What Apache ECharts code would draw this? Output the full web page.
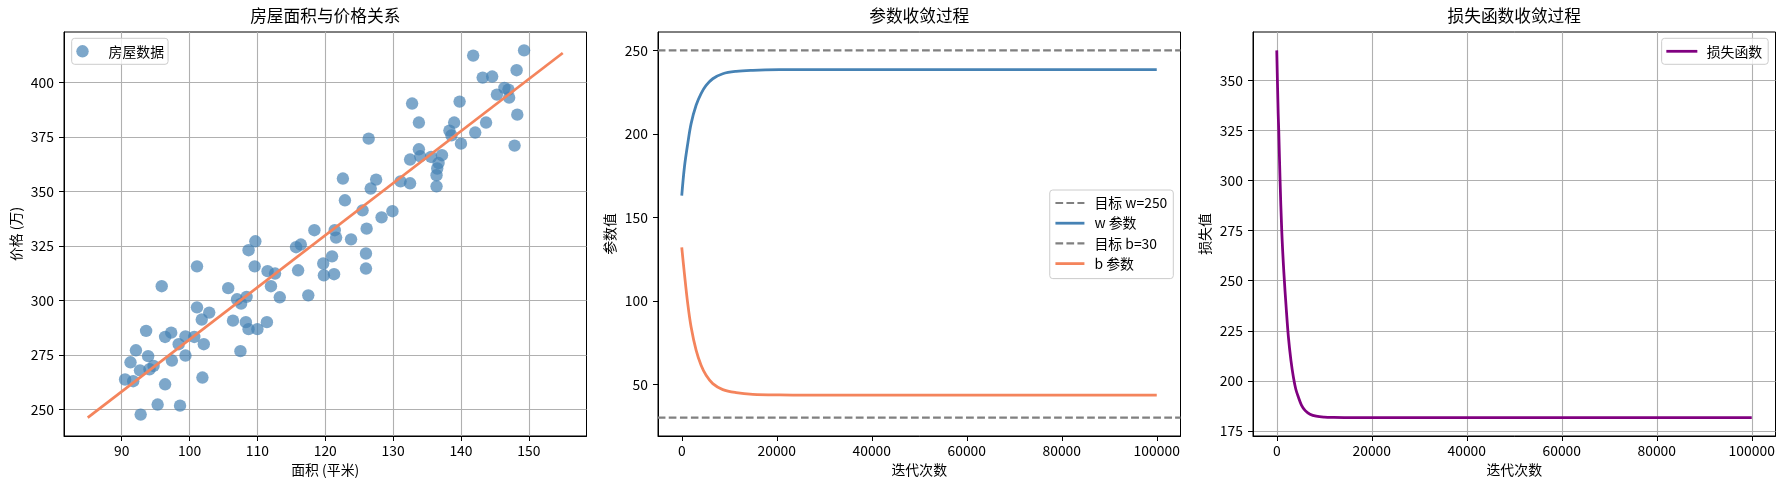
<!DOCTYPE html>
<html>
<head>
<meta charset="utf-8">
<title>房屋价格线性回归</title>
<script src="https://cdn.jsdelivr.net/npm/echarts@6/dist/echarts.min.js"></script>
<style>
html, body { margin: 0; padding: 0; background: #fff; }
#main { width: 1785px; height: 490px; }
</style>
</head>
<body>
<div id="main"></div>
<script>
// 房屋数据 [面积(平米), 价格(万)]
var housePoints = [
    [149.3,414.8],[141.8,412.4],[143.2,402.3],[144.6,402.8],[148.2,405.7],[146.4,397.6],[147.0,396.8],[145.3,394.5],[147.1,393.1],[148.3,385.3],
    [147.9,371.1],[143.7,381.7],[142.1,377.1],[139.8,391.3],[139.0,381.7],[138.3,378.0],[138.6,375.8],[140.0,372.0],[132.8,390.4],[133.8,381.7],
    [126.4,374.3],[133.8,369.4],[132.5,364.7],[134.0,366.2],[135.6,365.9],[137.2,366.7],[136.7,363.1],[136.5,360.6],[136.4,357.5],[136.4,352.4],
    [131.1,354.7],[132.5,353.8],[122.6,356.0],[127.5,355.5],[126.7,351.4],[122.9,346.0],[125.5,341.4],[129.9,341.0],[128.3,338.2],[126.1,333.0],
    [121.4,332.3],[121.6,328.9],[123.8,328.1],[118.4,332.3],[116.4,325.7],[115.7,324.5],[116.0,313.9],[119.7,317.0],[121.0,320.3],[119.8,311.6],
    [121.3,312.1],[126.0,321.6],[126.0,314.7],[117.5,302.4],[109.7,327.2],[108.7,323.1],[109.6,315.7],[111.5,313.5],[112.6,312.4],[112.0,306.6],
    [113.3,301.5],[105.7,305.7],[107.0,300.6],[108.4,301.7],[107.6,298.6],[106.4,290.8],[108.3,290.1],[108.7,286.9],[110.0,286.9],[111.4,290.1],
    [107.5,276.8],[101.1,315.7],[95.9,306.6],[101.1,296.9],[102.9,294.5],[101.8,291.3],[99.4,283.6],[100.7,283.3],[98.4,280.0],[102.1,280.0],
    [99.4,274.8],[97.3,285.3],[96.4,283.3],[97.4,272.5],[93.6,286.1],[92.1,277.2],[93.9,274.5],[91.3,271.7],[92.7,268.0],[94.1,268.5],
    [94.7,270.0],[90.5,263.8],[91.7,263.0],[96.4,261.6],[101.9,264.7],[95.3,252.3],[98.6,251.8],[92.8,247.7]
];
// 拟合直线两端
var fitX = [85, 155];
var fitY = [246.3, 413.6];

// 参数收敛过程
var paramIter = [0, 560, 1260, 1970, 3020, 4070, 5130, 6530, 8640, 11450, 14960, 20580, 26900, 40000, 60000, 80000, 100000];
var wValues = [163, 180, 194.1, 206.1, 217.1, 224.1, 229, 233, 236, 237.4, 238, 238.4, 238.5, 238.5, 238.5, 238.5, 238.5];
var bValues = [132, 116.3, 98.3, 84.3, 70.4, 61.4, 55.4, 50.4, 46.8, 45, 44, 43.6, 43.5, 43.5, 43.5, 43.5, 43.5];
var targetW = 250;
var targetB = 30;

// 损失函数收敛过程
var lossIter = [0, 300, 420, 700, 1050, 1500, 2000, 2450, 3000, 3500, 4000, 4545, 5200, 6000, 7000, 8300, 10000, 12000, 16000, 30000, 60000, 100000];
var lossValues = [364.9, 333.5, 325, 300, 275, 254, 236, 222, 210, 202, 196, 192, 188, 185.2, 183.4, 182.4, 181.95, 181.8, 181.7, 181.7, 181.7, 181.7];

// 刻度
var areaTicks = [90, 100, 110, 120, 130, 140, 150];
var priceTicks = [250, 275, 300, 325, 350, 375, 400];
var iterTicks = [0, 20000, 40000, 60000, 80000, 100000];
var paramTicks = [50, 100, 150, 200, 250];
var lossTicks = [175, 200, 225, 250, 275, 300, 325, 350];

var FONT = '"Noto Sans CJK SC", "Noto Sans", sans-serif';
var STEEL = '#4682B4';
var CORAL = '#F4845C';
var GRAY = '#808080';
var PURPLE = '#800080';
var SOLID_W = 2.78;
var DASH_W = 2.08;
var DASH = [7.7, 3.3];

// matplotlib 式 5% 边距
function padRange(vals) {
    var lo = Math.min.apply(null, vals), hi = Math.max.apply(null, vals);
    var p = (hi - lo) * 0.05;
    return [lo - p, hi + p];
}
function pairs(xs, ys) {
    return xs.map(function (x, i) { return [x, ys[i]]; });
}

var areaRange = padRange(housePoints.map(function (p) { return p[0]; }).concat(fitX));
var priceRange = padRange(housePoints.map(function (p) { return p[1]; }).concat(fitY));
var iterRange = padRange(paramIter);
var paramRange = padRange(wValues.concat(bValues, [targetW, targetB]));
var lossRange = padRange(lossValues);

var grids = [
    { left: 64, top: 32, width: 522.5, height: 404 },
    { left: 658, top: 32, width: 522.5, height: 404 },
    { left: 1253, top: 32, width: 522.5, height: 404 }
];
grids.forEach(function (g) {
    g.show = true;
    g.borderColor = '#000';
    g.borderWidth = 1;
    g.backgroundColor = 'transparent';
    g.containLabel = false;
});

function axis(gridIndex, range, ticks, name, showGrid, isY) {
    return {
        type: 'value',
        gridIndex: gridIndex,
        min: range[0],
        max: range[1],
        name: name,
        nameLocation: 'middle',
        nameGap: isY ? 41 : 27,
        nameTextStyle: { fontFamily: FONT, fontSize: 13.9, color: '#000' },
        axisLine: { show: true, onZero: false, lineStyle: { color: '#000', width: 1 } },
        axisTick: { show: true, length: 5, customValues: ticks, lineStyle: { color: '#000', width: 1 } },
        axisLabel: {
            customValues: ticks,
            margin: isY ? 10 : 8,
            fontFamily: FONT, fontSize: 13.9, color: '#000',
            formatter: function (v) { return String(v); }
        },
        splitLine: { show: showGrid, customValues: ticks, lineStyle: { color: '#b0b0b0', width: 1.1 } }
    };
}

var titleStyle = { fontFamily: FONT, fontSize: 16.7, fontWeight: 'normal', color: '#000' };
function title(text, g) {
    return { text: text, left: g.left + g.width / 2, textAlign: 'center', top: 7, padding: 0, textStyle: titleStyle };
}

var legendBase = {
    backgroundColor: 'rgba(255,255,255,0.8)',
    borderColor: '#cccccc',
    borderWidth: 1,
    borderRadius: 3,
    textStyle: { fontFamily: FONT, fontSize: 13.9, color: '#000', lineHeight: 14 }
};
function legend(extra) {
    var o = {};
    Object.keys(legendBase).forEach(function (k) { o[k] = legendBase[k]; });
    Object.keys(extra).forEach(function (k) { o[k] = extra[k]; });
    return o;
}
// 图例中的线宽与曲线保持一致
function lineItem(name, width) {
    return { name: name, lineStyle: { width: width } };
}

function lineSeries(name, xi, data, color, width, dash) {
    return {
        name: name, type: 'line',
        xAxisIndex: xi, yAxisIndex: xi,
        data: data,
        symbol: 'none', showSymbol: false,
        smooth: 0.35,
        lineStyle: { color: color, width: width, type: dash || 'solid' },
        itemStyle: { color: color },
        emphasis: { disabled: true },
        animation: false
    };
}

var chart = echarts.init(document.getElementById('main'), null, { renderer: 'canvas' });

chart.setOption({
    animation: false,
    textStyle: { fontFamily: FONT },
    title: [
        title('房屋面积与价格关系', grids[0]),
        title('参数收敛过程', grids[1]),
        title('损失函数收敛过程', grids[2])
    ],
    grid: grids,
    xAxis: [
        axis(0, areaRange, areaTicks, '面积 (平米)', true, false),
        axis(1, iterRange, iterTicks, '迭代次数', false, false),
        axis(2, iterRange, iterTicks, '迭代次数', true, false)
    ],
    yAxis: [
        axis(0, priceRange, priceTicks, '价格 (万)', true, true),
        axis(1, paramRange, paramTicks, '参数值', false, true),
        axis(2, lossRange, lossTicks, '损失值', true, true)
    ],
    legend: [
        legend({
            data: ['房屋数据'], left: 71.7, top: 38.3, orient: 'vertical',
            itemWidth: 28, itemHeight: 12.4, padding: [6, 4, 6, 4.6],
            textStyle: { fontFamily: FONT, fontSize: 13.9, color: '#000', lineHeight: 14, padding: [0, 0, 0, 7] }
        }),
        legend({
            data: [
                lineItem('目标 w=250', DASH_W),
                lineItem('w 参数', SOLID_W),
                lineItem('目标 b=30', DASH_W),
                lineItem('b 参数', SOLID_W)
            ],
            right: 611.7, top: 190, orient: 'vertical',
            itemWidth: 29, itemHeight: 14, itemGap: 6.2, padding: [6, 6, 8, 4.3],
            itemStyle: { opacity: 0 },
            textStyle: { fontFamily: FONT, fontSize: 13.9, color: '#000', lineHeight: 14, padding: [0, 0, 0, 5] }
        }),
        legend({
            data: [lineItem('损失函数', SOLID_W)],
            right: 16.8, top: 38.3, orient: 'vertical',
            itemWidth: 31, itemHeight: 14, padding: [6, 6, 6, 3.3],
            itemStyle: { opacity: 0 },
            textStyle: { fontFamily: FONT, fontSize: 13.9, color: '#000', lineHeight: 14, padding: [0, 0, 0, 4.3] }
        })
    ],
    series: [
        {
            name: '房屋数据', type: 'scatter',
            xAxisIndex: 0, yAxisIndex: 0,
            data: housePoints,
            symbol: 'circle', symbolSize: 12.4,
            itemStyle: { color: STEEL, opacity: 0.7 },
            emphasis: { disabled: true }
        },
        lineSeries('回归直线', 0, pairs(fitX, fitY), CORAL, SOLID_W),
        lineSeries('目标 w=250', 1, pairs(iterRange, [targetW, targetW]), GRAY, DASH_W, DASH),
        lineSeries('w 参数', 1, pairs(paramIter, wValues), STEEL, SOLID_W),
        lineSeries('目标 b=30', 1, pairs(iterRange, [targetB, targetB]), GRAY, DASH_W, DASH),
        lineSeries('b 参数', 1, pairs(paramIter, bValues), CORAL, SOLID_W),
        lineSeries('损失函数', 2, pairs(lossIter, lossValues), PURPLE, SOLID_W)
    ]
});
</script>
</body>
</html>
